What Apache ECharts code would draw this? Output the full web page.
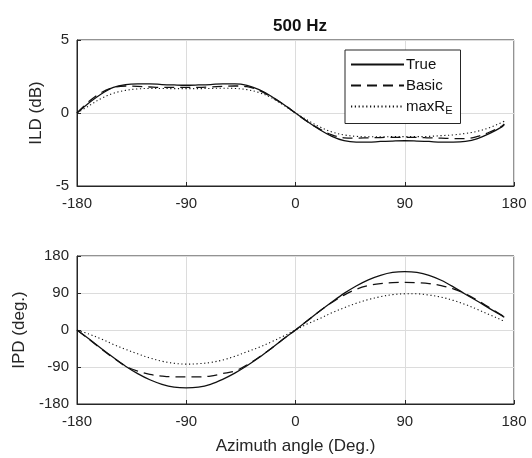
<!DOCTYPE html>
<html>
<head>
<meta charset="utf-8">
<script src="https://cdn.jsdelivr.net/npm/echarts@6/dist/echarts.min.js"></script>
<style>
  html, body { margin: 0; padding: 0; background: #fff; }
  #main { width: 532px; height: 458px; }
</style>
</head>
<body>
<div id="main"></div>
<script>
// azimuth angles (deg)
var angles = [-180, -170, -160, -150, -140, -130, -120, -110, -100, -90, -80, -70, -60, -50, -40, -30, -20, -10,
    0, 10, 20, 30, 40, 50, 60, 70, 80, 90, 100, 110, 120, 130, 140, 150, 160, 170, 172];

// ILD (dB)
var ildTrue = [0, 0.7, 1.3, 1.75, 1.95, 2.0, 2.0, 1.95, 1.92, 1.9, 1.92, 1.95, 2.0, 2.0, 1.9, 1.6, 1.15, 0.6,
    0, -0.6, -1.15, -1.6, -1.9, -2.0, -2.0, -1.95, -1.92, -1.9, -1.92, -1.95, -2.0, -2.0, -1.95, -1.75, -1.4, -0.95, -0.8];
var ildBasic = [0, 0.8, 1.4, 1.75, 1.85, 1.82, 1.78, 1.75, 1.75, 1.75, 1.75, 1.78, 1.82, 1.85, 1.8, 1.55, 1.1, 0.6,
    0, -0.6, -1.1, -1.5, -1.7, -1.72, -1.7, -1.68, -1.67, -1.67, -1.67, -1.7, -1.72, -1.75, -1.75, -1.6, -1.3, -0.9, -0.75];
var ildMaxRE = [0, 0.5, 1.0, 1.35, 1.55, 1.65, 1.68, 1.68, 1.67, 1.67, 1.67, 1.68, 1.7, 1.68, 1.6, 1.4, 1.05, 0.55,
    0, -0.5, -0.95, -1.3, -1.5, -1.6, -1.63, -1.63, -1.62, -1.62, -1.62, -1.6, -1.55, -1.5, -1.4, -1.25, -1.0, -0.65, -0.57];

// IPD (deg)
var ipdTrue = [0, -22, -45, -67, -88, -106, -121, -132, -139, -141, -139, -132, -120, -105, -87, -67, -45, -22,
    0, 23, 46, 68, 89, 107, 122, 133, 140, 142, 140, 133, 121, 105, 87, 70, 52, 35, 31];
var ipdBasic = [0, -23, -46, -68, -88, -100, -108, -112, -114, -114, -114, -112, -106, -100, -85, -66, -45, -22,
    0, 23, 46, 67, 85, 99, 108, 113, 115, 116, 115, 113, 108, 100, 88, 72, 54, 36, 32];
var ipdMaxRE = [0, -10, -22, -35, -47, -58, -68, -76, -81, -83, -82, -79, -73, -64, -53, -42, -29, -15,
    0, 15, 28, 42, 54, 65, 74, 81, 86, 88, 88, 85, 80, 72, 62, 50, 37, 24, 21];

var xTicks = [-180, -90, 0, 90, 180];
var ildTicks = [-5, 0, 5];
var ipdTicks = [-180, -90, 0, 90, 180];

function pairs(ys) {
    return angles.map(function (a, i) { return [a, ys[i]]; });
}

var axisColor = '#262626';
var gridColor = '#dcdcdc';
var fontFam = '"Liberation Sans", Arial, sans-serif';

function xAxisFor(gridIndex, withName) {
    return {
        type: 'value',
        gridIndex: gridIndex,
        min: xTicks[0],
        max: xTicks[xTicks.length - 1],
        interval: 90,
        name: withName ? 'Azimuth angle (Deg.)' : '',
        nameLocation: 'middle',
        nameGap: 34,
        nameTextStyle: { color: axisColor, fontSize: 17, fontFamily: fontFam },
        axisLine: { show: true, onZero: false, lineStyle: { color: axisColor, width: 1 } },
        axisTick: { show: true, inside: true, length: 4, lineStyle: { color: axisColor } },
        axisLabel: { color: axisColor, fontSize: 15, fontFamily: fontFam, margin: 10 },
        splitLine: { show: true, lineStyle: { color: gridColor, width: 1 } }
    };
}

function yAxisFor(gridIndex, ticks, name, gap) {
    return {
        type: 'value',
        gridIndex: gridIndex,
        min: ticks[0],
        max: ticks[ticks.length - 1],
        interval: ticks[1] - ticks[0],
        name: name,
        nameLocation: 'middle',
        nameGap: gap,
        nameRotate: 90,
        nameTextStyle: { color: axisColor, fontSize: 17, fontFamily: fontFam },
        axisLine: { show: true, onZero: false, lineStyle: { color: axisColor, width: 1 } },
        axisTick: { show: true, inside: true, length: 4, lineStyle: { color: axisColor } },
        axisLabel: { color: axisColor, fontSize: 15, fontFamily: fontFam, margin: 8 },
        splitLine: { show: true, lineStyle: { color: gridColor, width: 1 } }
    };
}

var styles = {
    'True': { type: 'solid', width: 1.3 },
    'Basic': { type: [10, 6], width: 1.3 },
    'maxRE': { type: [1.2, 2.6], width: 1.1 }
};

function lineSeries(name, ys, idx) {
    return {
        name: name,
        type: 'line',
        xAxisIndex: idx,
        yAxisIndex: idx,
        data: pairs(ys),
        smooth: 0.35,
        symbol: 'none',
        silent: true,
        lineStyle: { color: '#111', width: styles[name].width, type: styles[name].type },
        itemStyle: { color: '#111' }
    };
}

var myChart = echarts.init(document.getElementById('main'), null, { renderer: 'canvas' });

myChart.setOption({
    backgroundColor: '#fff',
    animation: false,
    title: {
        text: '500 Hz',
        left: 295,
        textAlign: 'center',
        top: 13,
        textStyle: { color: '#111', fontSize: 17, fontWeight: 'bold', fontFamily: fontFam }
    },
    legend: {
        data: ['True', 'Basic', 'maxRE'],
        orient: 'vertical',
        left: 345,
        top: 50,
        itemWidth: 53,
        itemHeight: 14,
        itemGap: 6,
        padding: [7, 8, 7, 5],
        backgroundColor: '#fff',
        borderColor: axisColor,
        borderWidth: 1,
        borderRadius: 0,
        selectedMode: false,
        itemStyle: { opacity: 0 },
        formatter: function (name) {
            return name === 'maxRE' ? 'maxR{sub|E}' : name;
        },
        textStyle: {
            color: '#111',
            fontSize: 15,
            fontFamily: fontFam,
            padding: [0, 0, 0, -3],
            rich: {
                sub: { fontSize: 11, fontFamily: fontFam, color: '#111', padding: [9, 0, 0, 0] }
            }
        }
    },
    grid: [
        { left: 77, right: 18, top: 40, height: 146, show: true, borderColor: axisColor, borderWidth: 1, backgroundColor: '#fff' },
        { left: 77, right: 18, top: 256, height: 148, show: true, borderColor: axisColor, borderWidth: 1, backgroundColor: '#fff' }
    ],
    xAxis: [xAxisFor(0, false), xAxisFor(1, true)],
    yAxis: [
        yAxisFor(0, ildTicks, 'ILD (dB)', 28),
        yAxisFor(1, ipdTicks, 'IPD (deg.)', 46)
    ],
    series: [
        lineSeries('True', ildTrue, 0),
        lineSeries('Basic', ildBasic, 0),
        lineSeries('maxRE', ildMaxRE, 0),
        lineSeries('True', ipdTrue, 1),
        lineSeries('Basic', ipdBasic, 1),
        lineSeries('maxRE', ipdMaxRE, 1)
    ]
});

window.addEventListener('resize', function () {
    myChart.resize();
});
</script>
</body>
</html>
